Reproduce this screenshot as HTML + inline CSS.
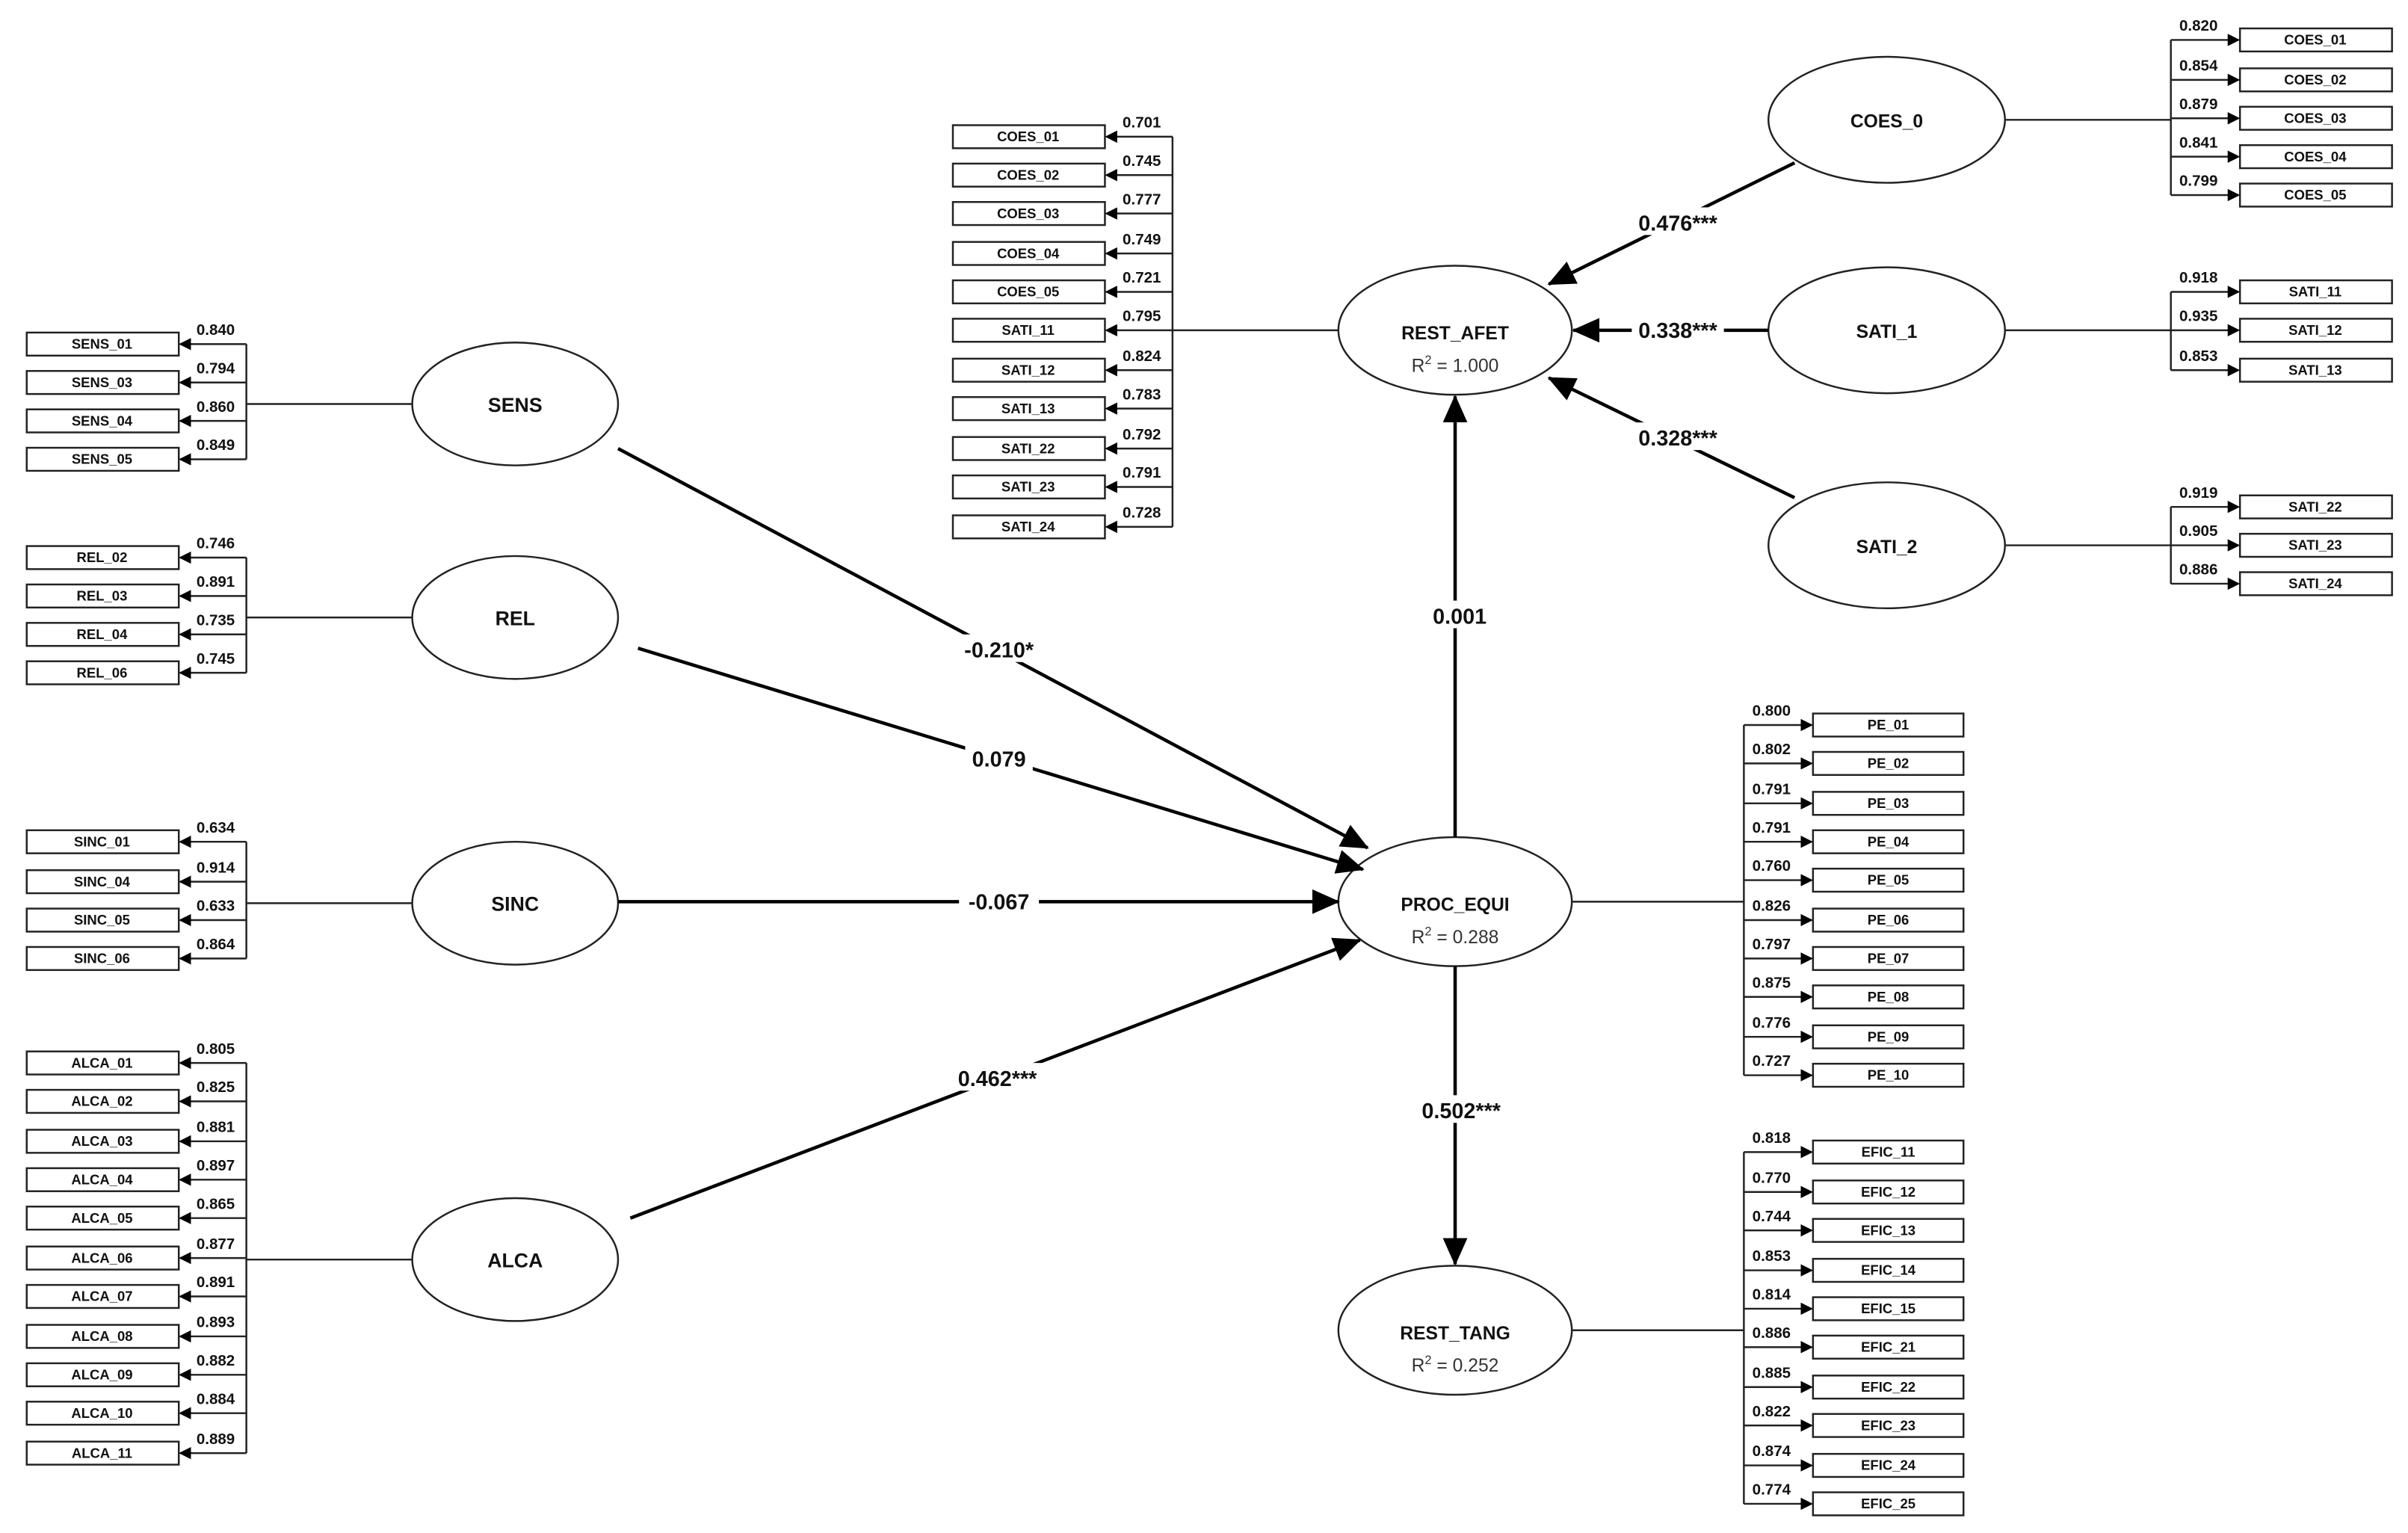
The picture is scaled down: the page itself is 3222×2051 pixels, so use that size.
<!DOCTYPE html>
<html><head><meta charset="utf-8">
<style>
html,body{margin:0;padding:0;background:#fff;}
svg{display:block;}
text{font-family:"Liberation Sans",Arial,sans-serif;fill:#111;}
.ind{font-size:9px;font-weight:bold;text-anchor:middle;}
.ld{font-size:10px;font-weight:bold;text-anchor:middle;}
.lv{font-size:13px;font-weight:bold;text-anchor:middle;}
.r2{font-size:12px;text-anchor:middle;fill:#333;}
.pc{font-size:14px;font-weight:bold;text-anchor:middle;}
</style></head>
<body>
<svg width="3222" height="2051" viewBox="0 0 1567 998" xmlns="http://www.w3.org/2000/svg">
<defs>
<marker id="s" markerWidth="8" markerHeight="8" refX="7" refY="4" orient="auto" markerUnits="userSpaceOnUse"><path d="M0,0 L8,4 L0,8 z" fill="#000"/></marker>
<marker id="b" markerWidth="18" markerHeight="16" refX="17" refY="8" orient="auto" markerUnits="userSpaceOnUse"><path d="M0,0 L18,8 L0,16 z" fill="#000"/></marker>
</defs>
<g stroke="#222" stroke-width="1.2" fill="none">
<!-- left buses -->
<line x1="160" y1="224" x2="160" y2="299"/><line x1="160" y1="263" x2="268" y2="263"/>
<line x1="160" y1="363" x2="160" y2="438"/><line x1="160" y1="402" x2="268" y2="402"/>
<line x1="160" y1="548" x2="160" y2="624"/><line x1="160" y1="588" x2="268" y2="588"/>
<line x1="160" y1="692" x2="160" y2="946"/><line x1="160" y1="820" x2="268" y2="820"/>
<line x1="763" y1="89" x2="763" y2="343"/><line x1="763" y1="215" x2="871" y2="215"/>
<line x1="1413" y1="26" x2="1413" y2="127"/><line x1="1305" y1="78" x2="1413" y2="78"/>
<line x1="1413" y1="190" x2="1413" y2="241"/><line x1="1305" y1="215" x2="1413" y2="215"/>
<line x1="1413" y1="330" x2="1413" y2="380"/><line x1="1305" y1="355" x2="1413" y2="355"/>
<line x1="1135" y1="472" x2="1135" y2="700"/><line x1="1023" y1="587" x2="1135" y2="587"/>
<line x1="1135" y1="750" x2="1135" y2="979"/><line x1="1023" y1="866" x2="1135" y2="866"/>
</g>
<!-- ellipses -->
<g fill="#fff" stroke="#222" stroke-width="1.2">
<ellipse cx="335" cy="263" rx="67" ry="40"/>
<ellipse cx="335" cy="402" rx="67" ry="40"/>
<ellipse cx="335" cy="588" rx="67" ry="40"/>
<ellipse cx="335" cy="820" rx="67" ry="40"/>
<ellipse cx="947" cy="215" rx="76" ry="42"/>
<ellipse cx="947" cy="587" rx="76" ry="42"/>
<ellipse cx="947" cy="866" rx="76" ry="42"/>
<ellipse cx="1228" cy="78" rx="77" ry="41"/>
<ellipse cx="1228" cy="215" rx="77" ry="41"/>
<ellipse cx="1228" cy="355" rx="77" ry="41"/>
</g>
<text class="lv" x="335" y="268">SENS</text>
<text class="lv" x="335" y="407">REL</text>
<text class="lv" x="335" y="593">SINC</text>
<text class="lv" x="335" y="825">ALCA</text>
<text class="lv" x="947" y="221" style="font-size:12px">REST_AFET</text><text class="r2" x="947" y="242">R<tspan dy="-5" font-size="8">2</tspan><tspan dy="5"> = 1.000</tspan></text>
<text class="lv" x="947" y="593" style="font-size:12px">PROC_EQUI</text><text class="r2" x="947" y="614">R<tspan dy="-5" font-size="8">2</tspan><tspan dy="5"> = 0.288</tspan></text>
<text class="lv" x="947" y="872" style="font-size:12px">REST_TANG</text><text class="r2" x="947" y="893">R<tspan dy="-5" font-size="8">2</tspan><tspan dy="5"> = 0.252</tspan></text>
<text class="lv" x="1228" y="83" style="font-size:12px">COES_0</text>
<text class="lv" x="1228" y="220" style="font-size:12px">SATI_1</text>
<text class="lv" x="1228" y="360" style="font-size:12px">SATI_2</text>
<!-- structural paths -->
<g stroke="#000" stroke-width="2.2" fill="none" marker-end="url(#b)">
<line x1="402" y1="292" x2="890" y2="552"/>
<line x1="415" y1="422" x2="887" y2="566"/>
<line x1="402" y1="587" x2="871" y2="587"/>
<line x1="410" y1="793" x2="885" y2="612"/>
<line x1="947" y1="545" x2="947" y2="258"/>
<line x1="947" y1="629" x2="947" y2="823"/>
<line x1="1168" y1="106" x2="1008" y2="185"/>
<line x1="1151" y1="215" x2="1024" y2="215"/>
<line x1="1168" y1="324" x2="1008" y2="246"/>
</g>
<g fill="#fff">
<rect x="622" y="413" width="54" height="18"/><rect x="628" y="484" width="44" height="18"/>
<rect x="624" y="577" width="52" height="18"/><rect x="618" y="692" width="62" height="18"/>
<rect x="928" y="391" width="42" height="18"/><rect x="920" y="713" width="62" height="18"/>
<rect x="1062" y="135" width="60" height="18"/><rect x="1062" y="205" width="60" height="18"/>
<rect x="1062" y="275" width="60" height="18"/>
</g>
<text class="pc" x="650" y="428">-0.210*</text>
<text class="pc" x="650" y="499">0.079</text>
<text class="pc" x="650" y="592">-0.067</text>
<text class="pc" x="649" y="707">0.462***</text>
<text class="pc" x="950" y="406">0.001</text>
<text class="pc" x="951" y="728">0.502***</text>
<text class="pc" x="1092" y="150">0.476***</text>
<text class="pc" x="1092" y="220">0.338***</text>
<text class="pc" x="1092" y="290">0.328***</text>

<!-- LEFT indicator groups: box 17-116, bus 160 -->
<g stroke="#222" stroke-width="1.2" fill="#fff">
<rect x="17" y="216.5" width="99" height="15"/><rect x="17" y="241.5" width="99" height="15"/><rect x="17" y="266.5" width="99" height="15"/><rect x="17" y="291.5" width="99" height="15"/>
<rect x="17" y="355.5" width="99" height="15"/><rect x="17" y="380.5" width="99" height="15"/><rect x="17" y="405.5" width="99" height="15"/><rect x="17" y="430.5" width="99" height="15"/>
<rect x="17" y="540.5" width="99" height="15"/><rect x="17" y="566.5" width="99" height="15"/><rect x="17" y="591.5" width="99" height="15"/><rect x="17" y="616.5" width="99" height="15"/>
<rect x="17" y="684.5" width="99" height="15"/><rect x="17" y="709.5" width="99" height="15"/><rect x="17" y="735.5" width="99" height="15"/><rect x="17" y="760.5" width="99" height="15"/><rect x="17" y="785.5" width="99" height="15"/><rect x="17" y="811.5" width="99" height="15"/><rect x="17" y="836.5" width="99" height="15"/><rect x="17" y="862.5" width="99" height="15"/><rect x="17" y="887.5" width="99" height="15"/><rect x="17" y="912.5" width="99" height="15"/><rect x="17" y="938.5" width="99" height="15"/>
<!-- middle -->
<rect x="620" y="81.5" width="99" height="15"/><rect x="620" y="106.5" width="99" height="15"/><rect x="620" y="131.5" width="99" height="15"/><rect x="620" y="157.5" width="99" height="15"/><rect x="620" y="182.5" width="99" height="15"/><rect x="620" y="207.5" width="99" height="15"/><rect x="620" y="233.5" width="99" height="15"/><rect x="620" y="258.5" width="99" height="15"/><rect x="620" y="284.5" width="99" height="15"/><rect x="620" y="309.5" width="99" height="15"/><rect x="620" y="335.5" width="99" height="15"/>
<!-- right top -->
<rect x="1458" y="18.5" width="99" height="15"/><rect x="1458" y="44.5" width="99" height="15"/><rect x="1458" y="69.5" width="99" height="15"/><rect x="1458" y="94.5" width="99" height="15"/><rect x="1458" y="119.5" width="99" height="15"/>
<rect x="1458" y="182.5" width="99" height="15"/><rect x="1458" y="207.5" width="99" height="15"/><rect x="1458" y="233.5" width="99" height="15"/>
<rect x="1458" y="322.5" width="99" height="15"/><rect x="1458" y="347.5" width="99" height="15"/><rect x="1458" y="372.5" width="99" height="15"/>
<!-- PE / EFIC -->
<rect x="1180" y="464.5" width="98" height="15"/><rect x="1180" y="489.5" width="98" height="15"/><rect x="1180" y="515.5" width="98" height="15"/><rect x="1180" y="540.5" width="98" height="15"/><rect x="1180" y="565.5" width="98" height="15"/><rect x="1180" y="591.5" width="98" height="15"/><rect x="1180" y="616.5" width="98" height="15"/><rect x="1180" y="641.5" width="98" height="15"/><rect x="1180" y="667.5" width="98" height="15"/><rect x="1180" y="692.5" width="98" height="15"/>
<rect x="1180" y="742.5" width="98" height="15"/><rect x="1180" y="768.5" width="98" height="15"/><rect x="1180" y="793.5" width="98" height="15"/><rect x="1180" y="819.5" width="98" height="15"/><rect x="1180" y="844.5" width="98" height="15"/><rect x="1180" y="869.5" width="98" height="15"/><rect x="1180" y="895.5" width="98" height="15"/><rect x="1180" y="920.5" width="98" height="15"/><rect x="1180" y="946.5" width="98" height="15"/><rect x="1180" y="971.5" width="98" height="15"/>
</g>
<!-- arrows: left (to box right edge) -->
<g stroke="#222" stroke-width="1.2" marker-end="url(#s)">
<line x1="160" y1="224" x2="117" y2="224"/><line x1="160" y1="249" x2="117" y2="249"/><line x1="160" y1="274" x2="117" y2="274"/><line x1="160" y1="299" x2="117" y2="299"/>
<line x1="160" y1="363" x2="117" y2="363"/><line x1="160" y1="388" x2="117" y2="388"/><line x1="160" y1="413" x2="117" y2="413"/><line x1="160" y1="438" x2="117" y2="438"/>
<line x1="160" y1="548" x2="117" y2="548"/><line x1="160" y1="574" x2="117" y2="574"/><line x1="160" y1="599" x2="117" y2="599"/><line x1="160" y1="624" x2="117" y2="624"/>
<line x1="160" y1="692" x2="117" y2="692"/><line x1="160" y1="717" x2="117" y2="717"/><line x1="160" y1="743" x2="117" y2="743"/><line x1="160" y1="768" x2="117" y2="768"/><line x1="160" y1="793" x2="117" y2="793"/><line x1="160" y1="819" x2="117" y2="819"/><line x1="160" y1="844" x2="117" y2="844"/><line x1="160" y1="870" x2="117" y2="870"/><line x1="160" y1="895" x2="117" y2="895"/><line x1="160" y1="920" x2="117" y2="920"/><line x1="160" y1="946" x2="117" y2="946"/>
<line x1="763" y1="89" x2="720" y2="89"/><line x1="763" y1="114" x2="720" y2="114"/><line x1="763" y1="139" x2="720" y2="139"/><line x1="763" y1="165" x2="720" y2="165"/><line x1="763" y1="190" x2="720" y2="190"/><line x1="763" y1="215" x2="720" y2="215"/><line x1="763" y1="241" x2="720" y2="241"/><line x1="763" y1="266" x2="720" y2="266"/><line x1="763" y1="292" x2="720" y2="292"/><line x1="763" y1="317" x2="720" y2="317"/><line x1="763" y1="343" x2="720" y2="343"/>
<line x1="1413" y1="26" x2="1457" y2="26"/><line x1="1413" y1="52" x2="1457" y2="52"/><line x1="1413" y1="77" x2="1457" y2="77"/><line x1="1413" y1="102" x2="1457" y2="102"/><line x1="1413" y1="127" x2="1457" y2="127"/>
<line x1="1413" y1="190" x2="1457" y2="190"/><line x1="1413" y1="215" x2="1457" y2="215"/><line x1="1413" y1="241" x2="1457" y2="241"/>
<line x1="1413" y1="330" x2="1457" y2="330"/><line x1="1413" y1="355" x2="1457" y2="355"/><line x1="1413" y1="380" x2="1457" y2="380"/>
<line x1="1135" y1="472" x2="1179" y2="472"/><line x1="1135" y1="497" x2="1179" y2="497"/><line x1="1135" y1="523" x2="1179" y2="523"/><line x1="1135" y1="548" x2="1179" y2="548"/><line x1="1135" y1="573" x2="1179" y2="573"/><line x1="1135" y1="599" x2="1179" y2="599"/><line x1="1135" y1="624" x2="1179" y2="624"/><line x1="1135" y1="649" x2="1179" y2="649"/><line x1="1135" y1="675" x2="1179" y2="675"/><line x1="1135" y1="700" x2="1179" y2="700"/>
<line x1="1135" y1="750" x2="1179" y2="750"/><line x1="1135" y1="776" x2="1179" y2="776"/><line x1="1135" y1="801" x2="1179" y2="801"/><line x1="1135" y1="827" x2="1179" y2="827"/><line x1="1135" y1="852" x2="1179" y2="852"/><line x1="1135" y1="877" x2="1179" y2="877"/><line x1="1135" y1="903" x2="1179" y2="903"/><line x1="1135" y1="928" x2="1179" y2="928"/><line x1="1135" y1="954" x2="1179" y2="954"/><line x1="1135" y1="979" x2="1179" y2="979"/>
</g>
<!-- indicator labels -->
<g class="ind">
<text x="66" y="227">SENS_01</text><text x="66" y="252">SENS_03</text><text x="66" y="277">SENS_04</text><text x="66" y="302">SENS_05</text>
<text x="66" y="366">REL_02</text><text x="66" y="391">REL_03</text><text x="66" y="416">REL_04</text><text x="66" y="441">REL_06</text>
<text x="66" y="551">SINC_01</text><text x="66" y="577">SINC_04</text><text x="66" y="602">SINC_05</text><text x="66" y="627">SINC_06</text>
<text x="66" y="695">ALCA_01</text><text x="66" y="720">ALCA_02</text><text x="66" y="746">ALCA_03</text><text x="66" y="771">ALCA_04</text><text x="66" y="796">ALCA_05</text><text x="66" y="822">ALCA_06</text><text x="66" y="847">ALCA_07</text><text x="66" y="873">ALCA_08</text><text x="66" y="898">ALCA_09</text><text x="66" y="923">ALCA_10</text><text x="66" y="949">ALCA_11</text>
<text x="669" y="92">COES_01</text><text x="669" y="117">COES_02</text><text x="669" y="142">COES_03</text><text x="669" y="168">COES_04</text><text x="669" y="193">COES_05</text><text x="669" y="218">SATI_11</text><text x="669" y="244">SATI_12</text><text x="669" y="269">SATI_13</text><text x="669" y="295">SATI_22</text><text x="669" y="320">SATI_23</text><text x="669" y="346">SATI_24</text>
<text x="1507" y="29">COES_01</text><text x="1507" y="55">COES_02</text><text x="1507" y="80">COES_03</text><text x="1507" y="105">COES_04</text><text x="1507" y="130">COES_05</text>
<text x="1507" y="193">SATI_11</text><text x="1507" y="218">SATI_12</text><text x="1507" y="244">SATI_13</text>
<text x="1507" y="333">SATI_22</text><text x="1507" y="358">SATI_23</text><text x="1507" y="383">SATI_24</text>
<text x="1229" y="475">PE_01</text><text x="1229" y="500">PE_02</text><text x="1229" y="526">PE_03</text><text x="1229" y="551">PE_04</text><text x="1229" y="576">PE_05</text><text x="1229" y="602">PE_06</text><text x="1229" y="627">PE_07</text><text x="1229" y="652">PE_08</text><text x="1229" y="678">PE_09</text><text x="1229" y="703">PE_10</text>
<text x="1229" y="753">EFIC_11</text><text x="1229" y="779">EFIC_12</text><text x="1229" y="804">EFIC_13</text><text x="1229" y="830">EFIC_14</text><text x="1229" y="855">EFIC_15</text><text x="1229" y="880">EFIC_21</text><text x="1229" y="906">EFIC_22</text><text x="1229" y="931">EFIC_23</text><text x="1229" y="957">EFIC_24</text><text x="1229" y="982">EFIC_25</text>
</g>
<!-- loadings -->
<g class="ld">
<text x="140" y="218">0.840</text><text x="140" y="243">0.794</text><text x="140" y="268">0.860</text><text x="140" y="293">0.849</text>
<text x="140" y="357">0.746</text><text x="140" y="382">0.891</text><text x="140" y="407">0.735</text><text x="140" y="432">0.745</text>
<text x="140" y="542">0.634</text><text x="140" y="568">0.914</text><text x="140" y="593">0.633</text><text x="140" y="618">0.864</text>
<text x="140" y="686">0.805</text><text x="140" y="711">0.825</text><text x="140" y="737">0.881</text><text x="140" y="762">0.897</text><text x="140" y="787">0.865</text><text x="140" y="813">0.877</text><text x="140" y="838">0.891</text><text x="140" y="864">0.893</text><text x="140" y="889">0.882</text><text x="140" y="914">0.884</text><text x="140" y="940">0.889</text>
<text x="743" y="83">0.701</text><text x="743" y="108">0.745</text><text x="743" y="133">0.777</text><text x="743" y="159">0.749</text><text x="743" y="184">0.721</text><text x="743" y="209">0.795</text><text x="743" y="235">0.824</text><text x="743" y="260">0.783</text><text x="743" y="286">0.792</text><text x="743" y="311">0.791</text><text x="743" y="337">0.728</text>
<text x="1431" y="20">0.820</text><text x="1431" y="46">0.854</text><text x="1431" y="71">0.879</text><text x="1431" y="96">0.841</text><text x="1431" y="121">0.799</text>
<text x="1431" y="184">0.918</text><text x="1431" y="209">0.935</text><text x="1431" y="235">0.853</text>
<text x="1431" y="324">0.919</text><text x="1431" y="349">0.905</text><text x="1431" y="374">0.886</text>
<text x="1153" y="466">0.800</text><text x="1153" y="491">0.802</text><text x="1153" y="517">0.791</text><text x="1153" y="542">0.791</text><text x="1153" y="567">0.760</text><text x="1153" y="593">0.826</text><text x="1153" y="618">0.797</text><text x="1153" y="643">0.875</text><text x="1153" y="669">0.776</text><text x="1153" y="694">0.727</text>
<text x="1153" y="744">0.818</text><text x="1153" y="770">0.770</text><text x="1153" y="795">0.744</text><text x="1153" y="821">0.853</text><text x="1153" y="846">0.814</text><text x="1153" y="871">0.886</text><text x="1153" y="897">0.885</text><text x="1153" y="922">0.822</text><text x="1153" y="948">0.874</text><text x="1153" y="973">0.774</text>
</g>
</svg>
</body></html>
